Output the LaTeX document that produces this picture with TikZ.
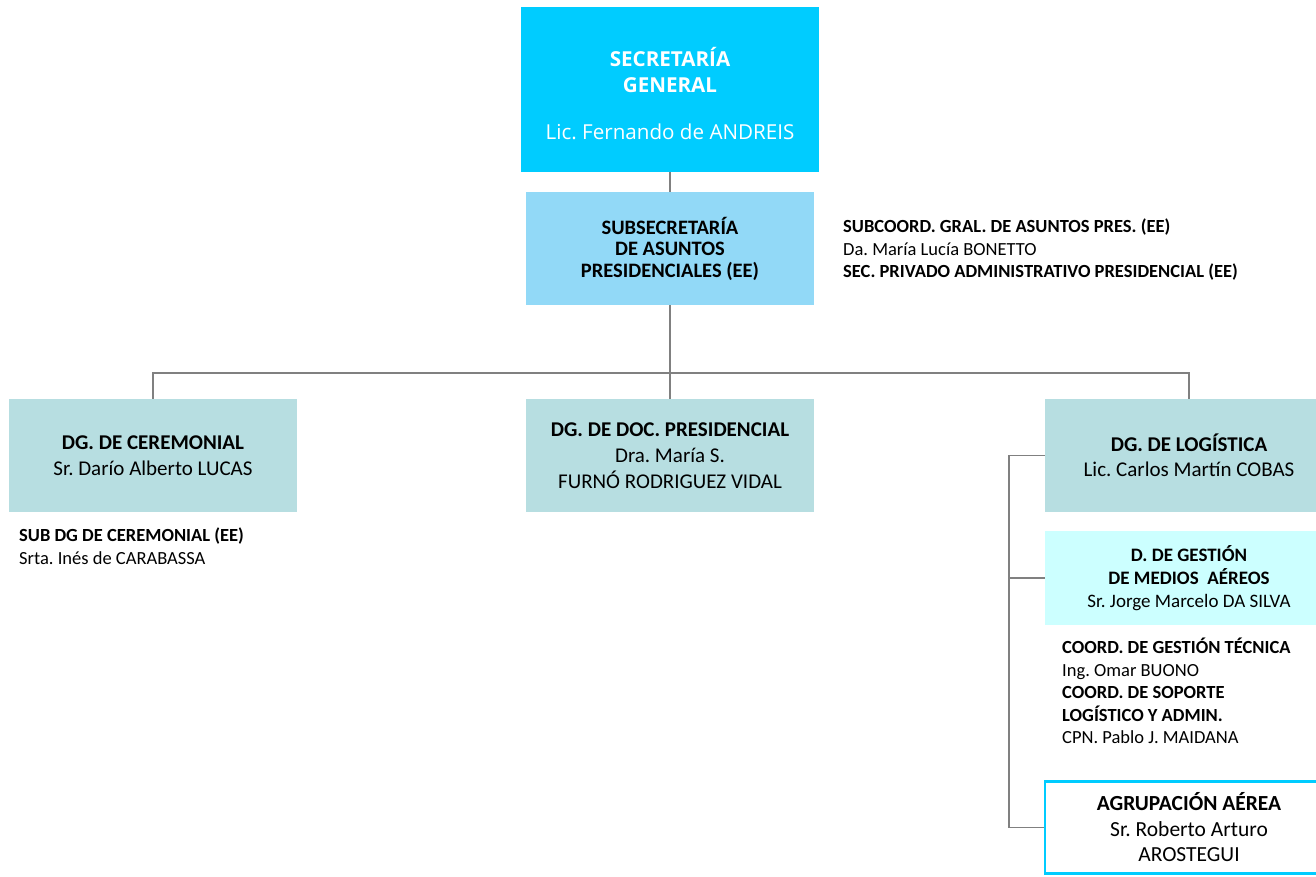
\documentclass[tikz,border=0pt]{standalone}
\usepackage{fontspec}
\setmainfont{Carlito}
\newfontfamily\opensans{Open Sans}
\usepackage{xcolor}

\definecolor{sgcyan}{RGB}{0,204,255}
\definecolor{subblue}{RGB}{146,217,247}
\definecolor{dgteal}{RGB}{183,222,225}
\definecolor{dlight}{RGB}{204,255,255}
\definecolor{linegray}{RGB}{128,128,128}

\tikzset{
    unit/.style={minimum width=288pt, minimum height=113pt, align=center, inner sep=0pt},
    link/.style={draw=linegray, line width=1.7pt},
    staff/.style={anchor=north west, align=left, inner sep=0pt, font=\fontsize{18.5}{22.5}\selectfont},
}

\begin{document}
\frenchspacing
\begin{tikzpicture}[x=1pt, y=-1pt]
    \useasboundingbox (0,0) rectangle (1316,876);
    \clip (0,0) rectangle (1316,876);

    \node[unit, fill=sgcyan, minimum width=298pt, minimum height=165pt, text=white,
          font=\opensans\fontsize{20.6}{26}\selectfont] (sgral) at (670,89.5)
          {\rule{0pt}{27pt}\textbf{SECRETARÍA}\\\textbf{GENERAL}\\[21pt]Lic. Fernando de ANDREIS};

    \node[unit, fill=subblue, font=\bfseries\fontsize{20.5}{21.5}\selectfont] (subsec) at (670,248.5)
          {SUBSECRETARÍA\\DE ASUNTOS\\PRESIDENCIALES (EE)};
    \node[staff] (subsecstaff) at (843,219)
          {\textbf{SUBCOORD. GRAL. DE ASUNTOS PRES. (EE)}\\Da. María Lucía BONETTO\\\textbf{SEC. PRIVADO ADMINISTRATIVO PRESIDENCIAL (EE)}};

    \node[unit, fill=dgteal, font=\fontsize{21}{25.5}\selectfont] (dgcer) at (153,455.5)
          {\textbf{DG. DE CEREMONIAL}\\Sr. Darío Alberto LUCAS};
    \node[staff] (cerstaff) at (19,528)
          {\textbf{SUB DG DE CEREMONIAL (EE)}\\Srta. Inés de CARABASSA};

    \node[unit, fill=dgteal, font=\fontsize{21}{26}\selectfont] (dgdoc) at (670,455.5)
          {\textbf{DG. DE DOC. PRESIDENCIAL}\\Dra. María S.\\FURNÓ RODRIGUEZ VIDAL};

    \node[unit, fill=dgteal, font=\fontsize{21}{25.5}\selectfont] (dglog) at (1189,455.5)
          {\textbf{DG. DE LOGÍSTICA}\\Lic. Carlos Martín COBAS};
    \node[unit, fill=dlight, minimum height=94pt, font=\fontsize{19}{23}\selectfont] (dgest) at (1189,578)
          {\textbf{D. DE GESTIÓN}\\\textbf{DE MEDIOS\ \ AÉREOS}\\Sr. Jorge Marcelo DA SILVA};
    \node[staff] (geststaff) at (1062,638)
          {\textbf{COORD. DE GESTIÓN TÉCNICA}\\Ing. Omar BUONO\\\textbf{COORD. DE SOPORTE}\\\textbf{LOGÍSTICO Y ADMIN.}\\CPN. Pablo J. MAIDANA};
    \node[unit, fill=white, draw=sgcyan, line width=2.5pt, minimum height=92pt,
          font=\fontsize{21.5}{25.5}\selectfont] (agrup) at (1189,827.5)
          {\textbf{AGRUPACIÓN AÉREA}\\Sr. Roberto Arturo\\AROSTEGUI};

    \coordinate (bus) at (670,373);
    \draw[link] (sgral) -- (subsec);
    \draw[link] (subsec) -- (bus);
    \draw[link] (bus) -| (dgcer.north);
    \draw[link] (bus) -| (dglog.north);
    \draw[link] (bus) -- (dgdoc);
    \draw[link] (dglog.west) -- ++(-36,0) |- (agrup.west);
    \draw[link] (dgest.west) -- ++(-36,0);
\end{tikzpicture}
\end{document}
